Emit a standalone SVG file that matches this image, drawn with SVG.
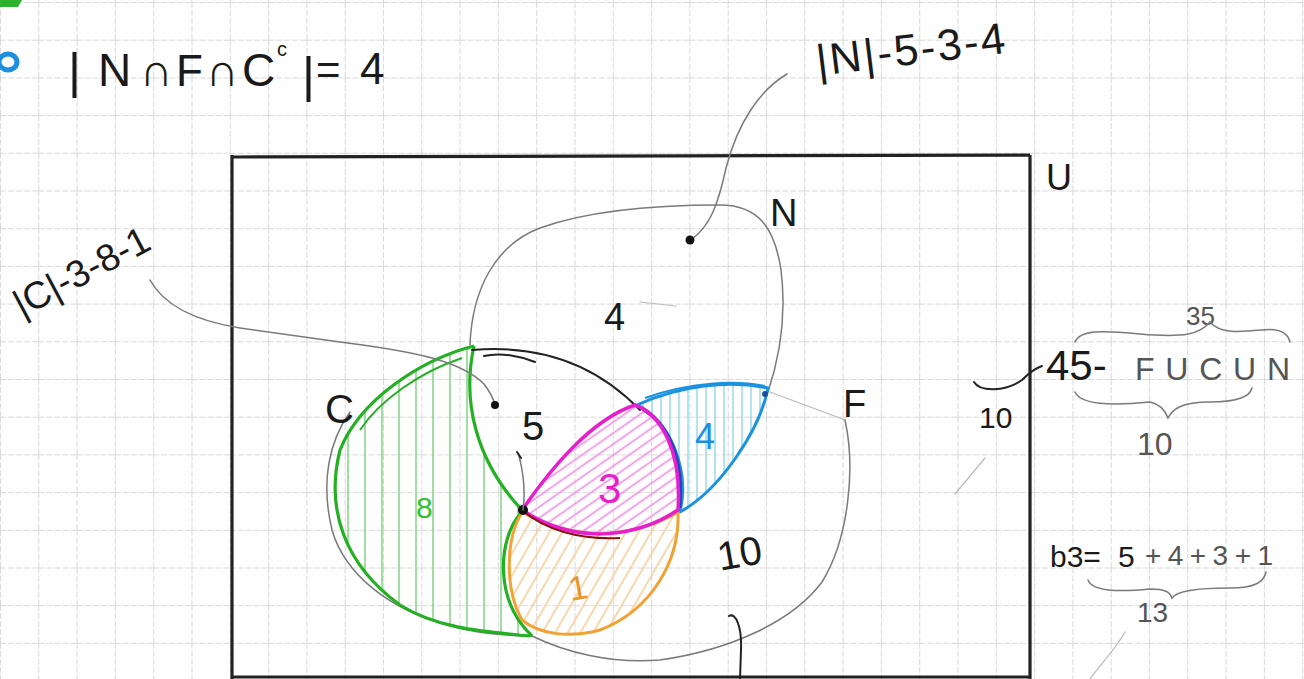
<svg xmlns="http://www.w3.org/2000/svg" width="1304" height="679" viewBox="0 0 1304 679">
<style>
.t{font-family:"Liberation Sans","DejaVu Sans",sans-serif;fill:#1a1a1a}
.g{font-family:"Liberation Sans","DejaVu Sans",sans-serif;fill:#555}
.pen{fill:none;stroke:#222;stroke-width:2;stroke-linecap:round}
.pencil{fill:none;stroke:#7a7a7a;stroke-width:1.5;stroke-linecap:round}
.faint{fill:none;stroke:#bbb;stroke-width:1.2;stroke-linecap:round}
</style>
<defs>
<pattern id="grid" patternUnits="userSpaceOnUse" width="38.3" height="37.7" x="0" y="2">
<path d="M0,0.5 H38.3 M0.5,0 V37.7" fill="none" stroke="#d9d9d9" stroke-width="1" stroke-dasharray="6 2"/>
</pattern>
<pattern id="hG" patternUnits="userSpaceOnUse" width="17" height="300">
<path d="M8,0 V300" stroke="#8ad68a" stroke-width="1.6"/>
</pattern>
<pattern id="hM" patternUnits="userSpaceOnUse" width="9" height="9" patternTransform="rotate(-35)">
<path d="M0,4.5 H9" stroke="#f08ce4" stroke-width="1.6"/>
</pattern>
<pattern id="hB" patternUnits="userSpaceOnUse" width="9" height="200">
<path d="M4,0 V200" stroke="#9fdcea" stroke-width="1.6"/>
</pattern>
<pattern id="hO" patternUnits="userSpaceOnUse" width="11" height="11" patternTransform="rotate(-60)">
<path d="M0,5 H11" stroke="#f8cf98" stroke-width="1.6"/>
</pattern>
</defs>
<rect width="1304" height="679" fill="#fefefe"/>
<rect width="1304" height="679" fill="url(#grid)"/>

<!-- bullets -->
<g id="bullets">
<path d="M0,0 H22 L18,7 H0 Z" fill="#2fb02f"/>
<ellipse cx="8" cy="62" rx="9" ry="8" fill="none" stroke="#1e8fe0" stroke-width="5"/>
</g>

<g id="legend-line">
<text class="t" x="68" y="88" font-size="50">|</text>
<text class="t" x="98" y="86" font-size="46">N</text>
<text class="t" x="140" y="86" font-size="46">∩</text>
<text class="t" x="176" y="86" font-size="44">F</text>
<text class="t" x="206" y="86" font-size="46">∩</text>
<text class="t" x="242" y="86" font-size="46">C</text>
<text class="t" x="277" y="56" font-size="20">c</text>
<text class="t" x="302" y="92" font-size="50">|</text>
<text class="t" x="316" y="84" font-size="42">=</text>
<text class="t" x="360" y="84" font-size="44">4</text>
</g>

<!-- universe -->
<g id="universe">
<path d="M232,157 L1030,155 M232,155 V679 M1030,155 V679 M232,677 H1030" fill="none" stroke="#222" stroke-width="3.2"/>
<text class="t" x="1046" y="190" font-size="36">U</text>
</g>

<!-- set C (green) -->
<g id="set-C">
<path d="M474,346 C420,360 360,400 340,450 C325,510 345,565 400,605 C440,630 490,632 530,636 C495,600 500,540 522,512 C475,460 462,400 474,346 Z" fill="url(#hG)"/>
<path class="pencil" d="M350,412 C330,440 320,480 332,530 C345,575 390,610 450,626 C480,634 510,636 532,636"/>
<path d="M474,346 C420,360 360,400 340,450 C325,510 345,565 400,605 C440,630 490,632 530,636" fill="none" stroke="#23b023" stroke-width="3.2"/>
<path d="M462,358 C420,372 380,400 360,430" fill="none" stroke="#23b023" stroke-width="2"/>
<path d="M474,346 C462,400 475,460 522,510" fill="none" stroke="#23b023" stroke-width="3.2"/>
<path d="M520,514 C498,540 494,600 532,636" fill="none" stroke="#23b023" stroke-width="3.2"/>
<text class="t" x="325" y="423" font-size="40">C</text>
<text x="416" y="518" font-size="30" fill="#35c035" font-family="Liberation Sans,sans-serif">8</text>
</g>

<!-- set N -->
<g id="set-N">
<path class="pencil" d="M470,345 C472,290 495,245 540,228 C590,210 660,205 720,205 C760,205 775,230 781,270 C786,310 782,350 768,392"/>
<path class="pen" d="M472,350 C530,345 590,358 640,410"/>
<path class="pen" d="M484,356 C500,352 520,356 535,362" stroke-width="1.5"/>
<text class="t" x="770" y="226" font-size="38">N</text>
<text class="t" x="604" y="330" font-size="38">4</text>
<path class="faint" d="M640,302 L676,306"/>
<text class="t" x="522" y="440" font-size="40">5</text>
</g>

<!-- set F -->
<g id="set-F">
<path class="faint" d="M770,392 L845,420" stroke="#999"/>
<path class="pencil" d="M845,420 C856,470 848,540 822,582 C792,622 730,650 660,660 C610,664 565,652 532,636"/>
<text class="t" x="843" y="417" font-size="38">F</text>
<text class="t" x="716" y="566" font-size="40" transform="rotate(-10 745 545)">10</text>
</g>

<!-- region N∩F∩C^c (blue) -->
<g id="region-NF">
<path d="M637,405 C680,385 730,380 768,388 C760,430 720,490 680,512 C690,470 670,420 637,405 Z" fill="url(#hB)" stroke="#1a92e0" stroke-width="3" stroke-linejoin="round"/>
<path d="M645,398 C690,382 735,380 765,386" fill="none" stroke="#1a92e0" stroke-width="2"/>
<path d="M643,410 C670,425 684,460 680,508" fill="none" stroke="#2c3fc0" stroke-width="3"/>
<circle cx="765" cy="394" r="3" fill="#1a4fa0"/>
<text x="695" y="449" font-size="36" fill="#1a8ee0" font-family="Liberation Sans,sans-serif">4</text>
</g>

<!-- region C∩F∩N^c (orange) -->
<g id="region-CF">
<path d="M522,512 C580,545 640,535 678,512 C680,560 652,610 600,630 C570,638 540,635 522,620 C505,590 505,540 522,512 Z" fill="url(#hO)" stroke="#f0a232" stroke-width="3" stroke-linejoin="round"/>
<text x="568" y="600" font-size="34" fill="#e8952a" font-family="Liberation Sans,sans-serif" transform="rotate(-10 575 585)">1</text>
</g>

<!-- region N∩F∩C (magenta) -->
<g id="region-NFC">
<path d="M522,510 C550,470 590,420 635,405 C662,415 682,452 678,510 C640,535 580,548 522,510 Z" fill="url(#hM)" stroke="#e61ecc" stroke-width="3.5" stroke-linejoin="round"/>
<path d="M522,510 C545,530 580,540 620,538" fill="none" stroke="#8a1010" stroke-width="2"/>
<text x="598" y="503" font-size="42" fill="#e61ecc" font-family="Liberation Sans,sans-serif">3</text>
<circle cx="523" cy="510" r="5" fill="#111"/>
</g>

<!-- annotations -->
<g id="note-N">
<text class="t" x="818" y="76" font-size="44" textLength="190" transform="rotate(-7 818 76)">|N|-5-3-4</text>
</g>
<g id="note-C">
<text class="t" x="22" y="318" font-size="38" transform="rotate(-28 22 318)">|C|-3-8-1</text>
</g>
<g id="note-rest">
<text class="t" x="979" y="428" font-size="30">10</text>
<text class="t" x="1046" y="380" font-size="42" fill="#333">45-</text>
<text class="g" x="1135" y="380" font-size="32" fill="#666" textLength="155">FUCUN</text>
<text class="g" x="1186" y="325" font-size="26" fill="#666">35</text>
<path class="pencil" d="M1075,342 C1080,330 1100,330 1140,334 C1185,338 1200,334 1210,322 C1220,334 1240,332 1262,330 C1280,328 1288,334 1290,342"/>
<path class="pencil" d="M1075,392 C1080,404 1110,406 1150,402 C1160,404 1165,410 1168,418 C1172,410 1180,402 1210,402 C1240,402 1250,396 1252,388"/>
<text class="g" x="1137" y="455" font-size="32" fill="#666">10</text>
<text class="t" x="1050" y="567" font-size="30">b3=</text>
<text class="t" x="1118" y="567" font-size="30">5</text>
<text class="g" x="1145" y="565" font-size="28" fill="#555" textLength="128">+4+3+1</text>
<path class="pencil" d="M1088,580 C1092,592 1120,592 1150,589 C1165,589 1170,592 1172,598 C1176,592 1190,588 1230,588 C1255,588 1264,582 1266,572"/>
<text class="g" x="1137" y="622" font-size="28" fill="#555">13</text>
</g>

<!-- connectors -->
<g id="connectors">
<path class="pencil" d="M787,74 C760,90 738,122 726,168 C718,205 710,226 692,239" stroke="#666" stroke-width="2"/>
<circle cx="690" cy="240" r="4.5" fill="#111"/>
<path class="pencil" d="M150,280 C162,302 190,320 240,328 L340,342 C420,352 462,362 484,384 C490,392 493,398 495,404" stroke="#666"/>
<circle cx="495" cy="405" r="4" fill="#111"/>
<path class="pencil" d="M519,456 C524,475 525,495 523,510" stroke="#666"/>
<path class="pen" d="M517,452 L521,458" stroke-width="2.5"/>
<path class="pen" d="M729,616 C736,612 742,628 741,650 L740,679" stroke-width="2"/>
<path class="pen" d="M974,382 C980,392 1005,392 1022,380 C1030,372 1036,368 1042,366" stroke-width="2.2"/>
<path class="faint" d="M985,458 L955,494"/>
<path class="faint" d="M1125,632 C1115,650 1100,665 1090,679"/>
</g>
</svg>
